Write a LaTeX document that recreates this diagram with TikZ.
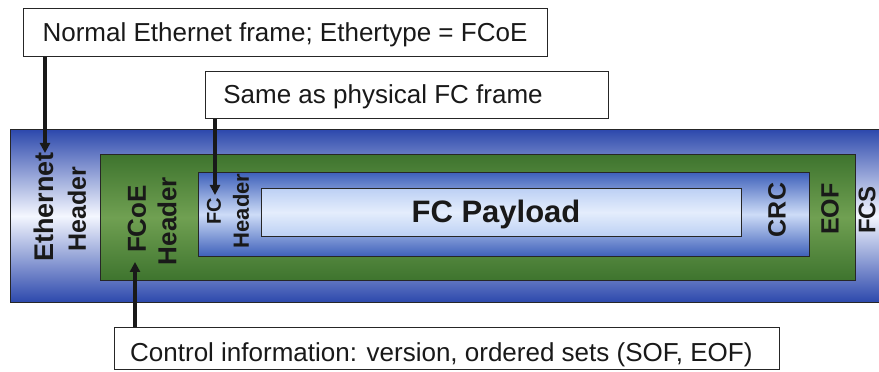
\documentclass[tikz,border=0pt]{standalone}
\usepackage{fontspec}
\setmainfont{Liberation Sans}
\usetikzlibrary{arrows.meta}
\definecolor{bdark}{RGB}{44,72,172}
\definecolor{blight}{RGB}{244,247,255}
\definecolor{gdark}{RGB}{62,116,46}
\definecolor{glight}{RGB}{112,160,82}
\definecolor{fdark}{RGB}{62,96,186}
\definecolor{flight}{RGB}{205,220,247}
\definecolor{pdark}{RGB}{188,208,244}
\definecolor{plight}{RGB}{228,237,252}
\definecolor{txt}{RGB}{25,25,25}
\tikzset{
  band/.style={draw=black!85, line width=1.4pt, shading=axis, shading angle=0},
  callout/.style={draw=black!85, line width=1.4pt, fill=white, inner sep=0pt},
  calltext/.style={font=\fontsize{26}{28}\selectfont, text=txt, inner sep=0pt},
  vlab/.style={rotate=90, font=\bfseries\fontsize{#1}{#1}\selectfont, text=txt, inner sep=0pt},
  arr/.style={line width=3.5pt, black!90, -{Triangle[length=10pt,width=10pt]}},
  wire/.style={line width=3.5pt, black!90}
}
\begin{document}
\begin{tikzpicture}[x=1pt,y=1pt]
\useasboundingbox (0,0) rectangle (879,372);
\clip (0,0) rectangle (879,372);
% frame bands
\node[band, top color=bdark, bottom color=bdark, middle color=blight, minimum width=880pt, minimum height=173pt, anchor=south west] (outer) at (10,69) {};
\node[band, top color=gdark, bottom color=gdark, middle color=glight, minimum width=755pt, minimum height=126pt, anchor=south west] (green) at (100,91) {};
\node[band, top color=fdark, bottom color=fdark, middle color=flight, minimum width=611pt, minimum height=84pt, anchor=south west] (fc) at (198,115) {};
\node[band, top color=pdark, bottom color=pdark, middle color=plight, minimum width=480pt, minimum height=48pt, anchor=south west] (pay) at (261,135) {};
% labels
\node[font=\bfseries\fontsize{31}{31}\selectfont, text=txt] (payt) at (496,158) {FC Payload};
\node[vlab=27] (eth1) at (44,165) {Ethernet};
\node[vlab=25] (eth2) at (77,163) {Header};
\node[vlab=26] (fcoe1) at (137,153) {FCoE};
\node[vlab=26] (fcoe2) at (167,151) {Header};
\node[vlab=20] (fch1) at (214,161) {FC};
\node[vlab=22] (fch2) at (241,161) {Header};
\node[vlab=25] (crc) at (777,162) {CRC};
\node[vlab=25] (eof) at (830,163) {EOF};
\node[vlab=24] (fcs) at (867,162) {FCS};
% callouts
\node[callout, minimum width=524pt, minimum height=48pt, anchor=south west] (b1) at (23,315) {};
\node[calltext] (b1t) at (285,337) {Normal Ethernet frame; Ethertype = FCoE};
\node[callout, minimum width=403pt, minimum height=47pt, anchor=south west] (b2) at (205,253) {};
\node[calltext] (b2t) at (383,275) {Same as physical FC frame};
\node[callout, minimum width=665pt, minimum height=42pt, anchor=south west] (b3) at (114,2) {};
\node[calltext, anchor=west] (b3t) at (130,17) {Control information: version, ordered sets (SOF, EOF)};
% arrows
\coordinate (t1) at (45,219);
\coordinate (t2) at (215,177);
\coordinate (t3) at (135,110);
\draw[arr] (b1.south -| t1) -- (t1);
\draw[arr] (b2.south -| t2) -- (t2);
\draw[arr] (b3.north -| t3) -- (t3);
\end{tikzpicture}
\end{document}
